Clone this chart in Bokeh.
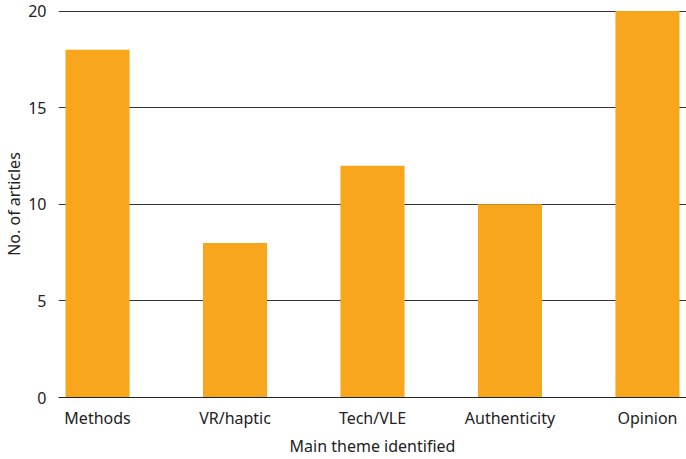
from bokeh.plotting import figure
from bokeh.models import Range1d, FixedTicker, ColumnDataSource
from bokeh.embed import file_html
from bokeh.resources import INLINE

categories = ["Methods", "VR/haptic", "Tech/VLE", "Authenticity", "Opinion"]
counts = [18, 8, 12, 10, 20]
y_ticks = [0, 5, 10, 15, 20]

positions = list(range(len(categories)))
src = ColumnDataSource(dict(x=positions, top=counts))

p = figure(width=686, height=459, output_backend="svg", toolbar_location=None,
           x_range=Range1d(-0.284, len(categories) - 1 + 0.284),
           y_range=Range1d(0, 20.03),
           min_border_left=57, min_border_right=0, min_border_top=10, min_border_bottom=62)
p.outline_line_color = None
p.background_fill_color = "white"
p.border_fill_color = "white"

p.vbar(x="x", top="top", width=0.466, bottom=0, source=src, color="#F8A71C", line_color=None)

FONT = "Noto Sans"
p.xaxis.ticker = FixedTicker(ticks=positions)
p.xaxis.major_label_overrides = {i: c for i, c in enumerate(categories)}
p.xaxis.axis_label = "Main theme identified"
p.xaxis.axis_line_color = "#222222"
p.xaxis.major_tick_line_color = None
p.xaxis.minor_tick_line_color = None
p.xaxis.major_label_standoff = 3
p.xaxis.axis_label_standoff = 3
p.xgrid.grid_line_color = None

p.yaxis.ticker = FixedTicker(ticks=y_ticks)
p.yaxis.axis_label = "No. of articles"
p.yaxis.axis_line_color = None
p.yaxis.major_tick_line_color = None
p.yaxis.minor_tick_line_color = None
p.yaxis.major_label_standoff = 6
p.yaxis.axis_label_standoff = 0
p.ygrid.grid_line_color = "#333333"
p.ygrid.grid_line_width = 1

for ax in (p.xaxis[0], p.yaxis[0]):
    ax.major_label_text_font = FONT
    ax.major_label_text_font_size = "16px"
    ax.major_label_text_color = "#222222"
    ax.axis_label_text_font = FONT
    ax.axis_label_text_font_size = "16px"
    ax.axis_label_text_font_style = "normal"
    ax.axis_label_text_color = "#222222"

open("out.html", "w").write(file_html(p, INLINE))
